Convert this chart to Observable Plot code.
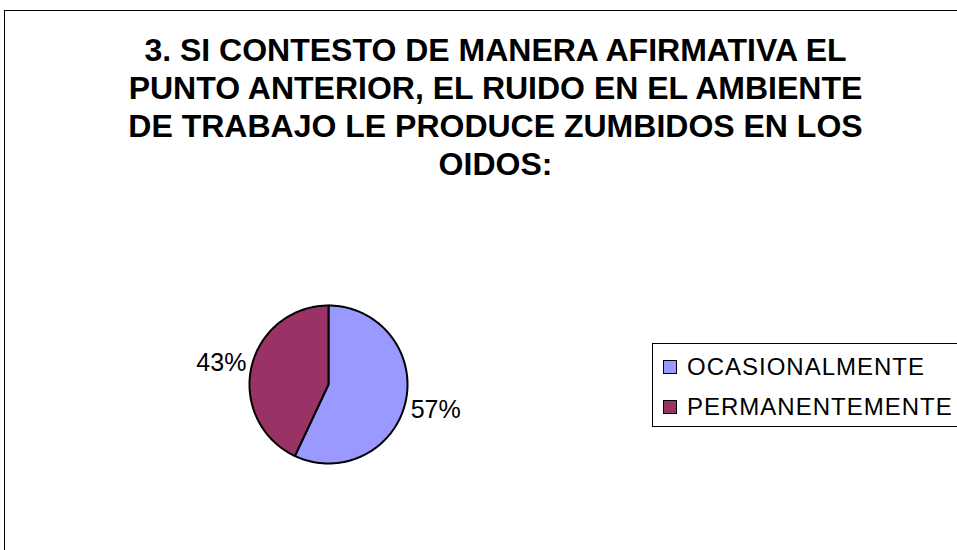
<!DOCTYPE html>
<html>
<head>
<meta charset="utf-8">
<script src="https://cdn.jsdelivr.net/npm/d3@7"></script>
<script src="https://cdn.jsdelivr.net/npm/@observablehq/plot@0.6"></script>
<style>
  html, body { margin: 0; padding: 0; background: #fff; }
  body { width: 957px; height: 550px; position: relative; overflow: hidden; font-family: "Liberation Sans", Arial, sans-serif; }
  #frame { position: absolute; left: 4px; top: 10px; width: 1000px; height: 600px; border: 1px solid #000; box-sizing: border-box; }
  #title { position: absolute; left: 0; top: 31px; width: 991px; text-align: center; font-weight: bold; font-size: 32px; line-height: 38px; color: #000; }
  #chart { position: absolute; left: 0; top: 190px; }
  #legend { position: absolute; left: 652px; top: 343px; width: 320px; height: 84px; border: 1px solid #000; box-sizing: border-box; background: #fff; }
  .item { position: absolute; left: 10px; display: flex; align-items: center; font-size: 24px; letter-spacing: 1px; color: #000; line-height: 28px; }
  .sw { width: 12px; height: 12px; border: 1px solid #000; margin-right: 10px; }
</style>
</head>
<body>
<div id="frame"></div>
<div id="title"></div>
<div id="chart"></div>
<div id="legend"></div>
<script>
const titleLines = [
  "3. SI CONTESTO DE MANERA AFIRMATIVA EL",
  "PUNTO ANTERIOR, EL RUIDO EN EL AMBIENTE",
  "DE TRABAJO LE PRODUCE ZUMBIDOS EN LOS",
  "OIDOS:"
];
const categories = ["OCASIONALMENTE", "PERMANENTEMENTE"];
const values = [57, 43];
const colors = ["#9999FF", "#993366"];

document.getElementById("title").innerHTML = titleLines.join("<br>");

// slice geometry derived from values (clockwise from 12 o'clock)
const total = d3.sum(values);
let acc = 0;
const slices = categories.map((c, i) => {
  const a0 = acc / total * 2 * Math.PI;
  acc += values[i];
  const a1 = acc / total * 2 * Math.PI;
  return {cat: c, value: values[i], a0, a1, color: colors[i]};
});
const polys = slices.map(s => {
  const pts = [{x: 0, y: 0}];
  const n = Math.max(2, Math.ceil((s.a1 - s.a0) / 0.02));
  for (let k = 0; k <= n; k++) {
    const a = s.a0 + (s.a1 - s.a0) * k / n;
    pts.push({x: Math.sin(a), y: Math.cos(a)});
  }
  pts.push({x: 0, y: 0});
  return {s, pts};
});
const labels = slices.map(s => {
  const m = (s.a0 + s.a1) / 2;
  return {x: 1.39 * Math.sin(m), y: 1.39 * Math.cos(m), text: Math.round(s.value / total * 100) + "%"};
});

const cx = 328, cy = 194, r = 79;
const plot = Plot.plot({
  width: 957,
  height: 360,
  margin: 0,
  x: {domain: [-1, 1], range: [cx - r, cx + r], axis: null},
  y: {domain: [-1, 1], range: [cy + r, cy - r], axis: null},
  style: {background: "transparent", overflow: "visible"},
  marks: [
    ...polys.map(p => Plot.line(p.pts, {x: "x", y: "y", fill: p.s.color, stroke: "#000", strokeWidth: 2, strokeLinejoin: "round", curve: "linear"})),
    Plot.text(labels, {x: "x", y: "y", dy: 2, text: "text", fontSize: 25, fill: "#000", fontFamily: "Liberation Sans, Arial, sans-serif", textAnchor: "middle"})
  ]
});
document.getElementById("chart").appendChild(plot);

const legend = document.getElementById("legend");
categories.forEach((c, i) => {
  const it = document.createElement("div");
  it.className = "item";
  it.style.top = (i === 0 ? 9 : 49) + "px";
  it.innerHTML = `<div class="sw" style="background:${colors[i]}"></div><span>${c}</span>`;
  legend.appendChild(it);
});
</script>
</body>
</html>
